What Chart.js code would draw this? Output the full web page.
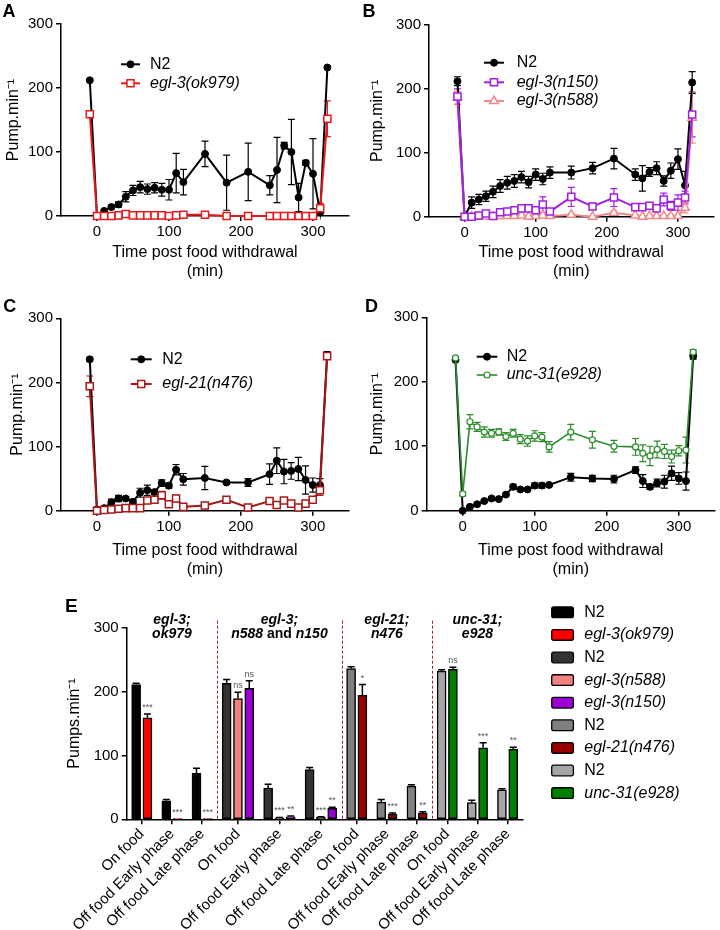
<!DOCTYPE html>
<html><head><meta charset="utf-8">
<script src="https://cdn.jsdelivr.net/npm/chart.js@4/dist/chart.umd.min.js"></script>
<style>
html,body{margin:0;padding:0;background:#fff;}
#wrap{position:relative;width:720px;height:930px;overflow:hidden;background:#fff;}
canvas{position:absolute;}
</style></head><body>
<div id="wrap">
<canvas id="cA" width="360" height="282" style="left:0;top:0;width:360px;height:282px"></canvas>
<canvas id="cB" width="360" height="282" style="left:360px;top:0;width:360px;height:282px"></canvas>
<canvas id="cC" width="360" height="300" style="left:0;top:282px;width:360px;height:300px"></canvas>
<canvas id="cD" width="360" height="300" style="left:360px;top:282px;width:360px;height:300px"></canvas>
<canvas id="cE" width="720" height="350" style="left:0;top:580px;width:720px;height:350px"></canvas>
</div>
<script>
// ---------------- DATA ----------------
const timePoints = [-10,0,10,20,30,40,50,60,70,80,90,100,110,120,150,180,210,240,250,260,270,280,290,300,310,320];
const xTickValues = [0,100,200,300];
const yTickValues = [0,100,200,300];

// Panel A
const A_N2      = [212,0,8,14,18,30,40,45,42,44,41,41,67,53,97,52,69,48,72,110,100,29,83,66,6,232];
const A_N2_err  = [0,0,2,3,4,8,8,9,8,8,10,16,31,20,20,43,45,15,51,5,51,22,4,55,5,0];
const A_ok979     = [159,0,0,0,1,3,1,1,1,1,1,0,1,2,2,0,0,0,0,0,0,0,0,0,12,152];
const A_ok979_err = [0,0,1,1,1,1,1,1,1,1,1,1,1,1,1,1,1,1,1,1,1,1,1,1,8,28];

// Panel B
const B_N2      = [212,0,22,27,32,39,48,53,56,62,54,66,59,69,69,76,91,66,60,70,76,56,72,90,49,210];
const B_N2_err  = [7,2,9,8,8,9,10,10,10,9,9,9,9,9,10,9,16,9,20,7,10,8,12,16,22,17];
const B_n150      = [188,0,0,2,5,1,7,8,10,13,13,10,19,8,31,16,30,15,15,17,13,27,17,22,30,160];
const B_n150_err  = [12,1,2,2,2,2,2,3,3,3,3,4,12,3,15,5,14,5,4,4,4,10,7,12,10,35];
const B_n588      = [186,0,0,0,0,0,1,1,1,2,0,1,2,1,3,0,6,2,0,1,1,1,1,1,14,155];
const B_n588_err  = [10,0,1,1,1,1,1,1,1,1,1,1,1,1,2,1,3,1,1,1,1,1,1,1,8,40];

// Panel C
const C_N2      = [236,2,4,13,19,19,14,28,32,29,43,39,64,49,51,44,44,57,78,61,62,65,48,40,40,243];
const C_N2_err  = [3,1,2,5,5,3,3,7,8,4,5,4,8,9,18,3,6,16,20,19,13,18,22,11,10,5];
const C_n476      = [194,0,1,2,3,4,4,4,16,17,24,10,19,6,8,17,5,15,9,16,11,5,11,17,32,241];
const C_n476_err  = [16,1,1,1,1,1,1,2,3,3,6,3,5,2,2,3,1,3,3,3,2,2,2,3,8,5];

// Panel D
const D_N2      = [234,0,6,10,15,19,18,25,37,33,33,39,39,40,52,50,49,63,46,37,43,45,58,50,46,240];
const D_N2_err  = [2,1,1,1,1,1,1,2,4,2,2,4,4,2,6,5,6,5,10,4,6,10,11,9,14,5];
const D_e928      = [237,26,138,130,122,120,122,115,120,111,108,116,114,99,122,110,100,99,89,85,95,92,84,93,94,246];
const D_e928_err  = [2,3,11,7,8,6,5,6,6,7,8,8,7,8,12,13,9,13,13,15,13,11,10,8,20,4];

// Panel E
const E_categories = ['On food','Off food Early phase','Off food Late phase',
                      'On food','Off food Early phase','Off food Late phase',
                      'On food','Off food Early phase','Off food Late phase',
                      'On food','Off food Early phase','Off food Late phase'];
const _ = null;
const E_N2a       = [211,29,72, _,_,_, _,_,_, _,_,_];
const E_N2a_err   = [2,2,8, _,_,_, _,_,_, _,_,_];
const E_ok979     = [159,1,1, _,_,_, _,_,_, _,_,_];
const E_ok979_err = [6,0,0, _,_,_, _,_,_, _,_,_];
const E_ok979_sig = ['***','***','***', _,_,_, _,_,_, _,_,_];
const E_N2b       = [_,_,_, 213,49,78, _,_,_, _,_,_];
const E_N2b_err   = [_,_,_, 6,6,3, _,_,_, _,_,_];
const E_n588      = [_,_,_, 189,2,3, _,_,_, _,_,_];
const E_n588_err  = [_,_,_, 10,1,1, _,_,_, _,_,_];
const E_n588_sig  = [_,_,_, 'ns','***','***', _,_,_, _,_,_];
const E_n150      = [_,_,_, 205,4,17, _,_,_, _,_,_];
const E_n150_err  = [_,_,_, 12,1,2, _,_,_, _,_,_];
const E_n150_sig  = [_,_,_, 'ns','**','**', _,_,_, _,_,_];
const E_N2c       = [_,_,_, _,_,_, 236,27,52, _,_,_];
const E_N2c_err   = [_,_,_, _,_,_, 3,4,2, _,_,_];
const E_n476      = [_,_,_, _,_,_, 194,8,10, _,_,_];
const E_n476_err  = [_,_,_, _,_,_, 17,2,2, _,_,_];
const E_n476_sig  = [_,_,_, _,_,_, '*','***','**', _,_,_];
const E_N2d       = [_,_,_, _,_,_, _,_,_, 232,26,46];
const E_N2d_err   = [_,_,_, _,_,_, _,_,_, 2,4,2];
const E_e928      = [_,_,_, _,_,_, _,_,_, 235,112,110];
const E_e928_err  = [_,_,_, _,_,_, _,_,_, 3,8,3];
const E_e928_sig  = [_,_,_, _,_,_, _,_,_, 'ns','***','**'];
const E_groupHeaders = [
  [[['egl-3;',true]], [['ok979',true]]],
  [[['egl-3;',true]], [['n588',true],[' and ',false],['n150',true]]],
  [[['egl-21;',true]], [['n476',true]]],
  [[['unc-31;',true]], [['e928',true]]]
];

// ---------------- SETUP ----------------
const FONT = "'Liberation Sans', Arial, Helvetica, sans-serif";
Chart.defaults.font.family = FONT;
Chart.defaults.font.size = 15;
Chart.defaults.color = '#000';

const fixedTicks = vals => scale => { scale.ticks = vals.map(v => ({value: v})); };

function drawMarker(ctx, style, x, y, r) {
  ctx.beginPath();
  if (style === 'rect') {
    const s = r * Math.SQRT1_2; ctx.rect(x - s, y - s, 2 * s, 2 * s);
  } else if (style === 'triangle') {
    let a = 0;
    ctx.moveTo(x + Math.sin(a) * r, y - Math.cos(a) * r); a += 2 * Math.PI / 3;
    ctx.lineTo(x + Math.sin(a) * r, y - Math.cos(a) * r); a += 2 * Math.PI / 3;
    ctx.lineTo(x + Math.sin(a) * r, y - Math.cos(a) * r);
    ctx.closePath();
  } else {
    ctx.arc(x, y, r, 0, Math.PI * 2);
  }
  ctx.fill(); ctx.stroke();
}

function errorBarsPlugin(layer, o) {
  const draw = chart => {
    const ctx = chart.ctx, ys = chart.scales.y;
    chart.data.datasets.forEach((ds, di) => {
      if (!ds.errors) return;
      const meta = chart.getDatasetMeta(di);
      ctx.save();
      ctx.strokeStyle = o.color || ds.borderColor;
      ctx.lineWidth = o.lw;
      meta.data.forEach((el, i) => {
        const raw = ds.data[i];
        const v = (raw && typeof raw === 'object') ? raw.y : raw;
        const e = ds.errors[i];
        if (v == null || !e) return;
        const x = el.x;
        const yT = ys.getPixelForValue(v + e);
        const lo = Math.max(0, v - e);
        const yB = o.upperOnly ? ys.getPixelForValue(v) : ys.getPixelForValue(lo);
        ctx.beginPath();
        ctx.moveTo(x, yT); ctx.lineTo(x, yB);
        ctx.moveTo(x - o.cap, yT); ctx.lineTo(x + o.cap, yT);
        if (!o.upperOnly && lo > 0) { ctx.moveTo(x - o.cap, yB); ctx.lineTo(x + o.cap, yB); }
        ctx.stroke();
      });
      ctx.restore();
    });
  };
  const p = {id: 'errorBars'};
  if (layer === 'before') p.beforeDatasetsDraw = draw; else p.afterDatasetsDraw = draw;
  return p;
}

function lineLegendPlugin(L) {
  return {id: 'lineLegend', afterDraw(chart) {
    const ctx = chart.ctx;
    L.items.forEach((di, k) => {
      const ds = chart.data.datasets[di];
      const y = L.rows[k];
      ctx.save();
      ctx.strokeStyle = ds.borderColor; ctx.lineWidth = ds.borderWidth;
      ctx.beginPath(); ctx.moveTo(L.x1, y); ctx.lineTo(L.x2, y); ctx.stroke();
      ctx.fillStyle = ds.pointBackgroundColor; ctx.strokeStyle = ds.pointBorderColor; ctx.lineWidth = ds.pointBorderWidth;
      drawMarker(ctx, ds.pointStyle, (L.x1 + L.x2) / 2, y, ds.pointRadius);
      ctx.fillStyle = '#000';
      ctx.font = (ds.italic ? 'italic ' : '') + '16px ' + FONT;
      ctx.textBaseline = 'middle'; ctx.textAlign = 'left';
      ctx.fillText(ds.label, L.tx, y);
      ctx.restore();
    });
  }};
}

function panelLabelPlugin(P) {
  return {id: 'panelLabel', afterDraw(chart) {
    const ctx = chart.ctx;
    ctx.save();
    ctx.font = 'bold ' + P.size + 'px ' + FONT;
    ctx.fillStyle = '#000'; ctx.textBaseline = 'alphabetic'; ctx.textAlign = 'left';
    ctx.fillText(P.text, P.x, P.y);
    ctx.restore();
  }};
}

function series(label, vals, errs, st) {
  return {
    label, data: timePoints.map((t, i) => ({x: t, y: vals[i]})), errors: errs,
    borderColor: st.color, borderWidth: st.lw, pointStyle: st.ps, pointRadius: st.r,
    pointBackgroundColor: st.fill, pointBorderColor: st.color, pointBorderWidth: st.pbw,
    italic: st.italic, order: st.order, tension: 0, clip: false
  };
}

const axisGrid = {drawOnChartArea: false, drawTicks: true, tickLength: 5, color: '#000', lineWidth: 1.5};
const axisBorder = {display: true, color: '#000', width: 1.5};

function makeLine(id, datasets, L) {
  return new Chart(document.getElementById(id), {
    type: 'line',
    data: {datasets},
    options: {
      responsive: false, animation: false, devicePixelRatio: 1, events: [],
      layout: {padding: {top: L.top, right: L.right, bottom: 0, left: 0}},
      plugins: {legend: {display: false}, tooltip: {enabled: false}},
      scales: {
        x: {type: 'linear', min: -50, max: 350,
            afterBuildTicks: fixedTicks(xTickValues), afterFit: s => { s.height = L.xh; },
            grid: axisGrid, border: axisBorder,
            ticks: {padding: 2, font: {size: 15}},
            title: {display: true, text: ['Time post food withdrawal', '(min)'], font: {size: 16},
                    padding: {top: 0, bottom: L.tpb}}},
        y: {type: 'linear', min: 0, max: 300,
            afterBuildTicks: fixedTicks(yTickValues), afterFit: s => { s.width = L.yw; },
            grid: axisGrid, border: axisBorder,
            ticks: {padding: 3, font: {size: 15}},
            title: {display: true, text: 'Pump.min\u207B\u00B9', font: {size: 16},
                    padding: {top: L.ytp, bottom: 0}}}
      }
    },
    plugins: [errorBarsPlugin('before', {lw: 1.2, cap: 3.5}), lineLegendPlugin(L.legend), panelLabelPlugin(L.panel)]
  });
}

const sN2 = {color: '#000', lw: 2, ps: 'circle', r: 3.5, fill: '#000', pbw: 1, italic: false, order: 5};
const hollow = (color, ps, r, order) => ({color, lw: 2, ps, r, fill: '#fff', pbw: 1.5, italic: true, order});

makeLine('cA', [
  series('N2', A_N2, A_N2_err, sN2),
  series('egl-3(ok979)', A_ok979, A_ok979_err, hollow('#e8191c', 'rect', 5, 1))
], {top: 24, right: 11, yw: 61, xh: 66, tpb: 0.4, ytp: 4,
    legend: {items: [0, 1], x1: 121, x2: 140, tx: 150, rows: [64.3, 83.3]},
    panel: {text: 'A', x: 2.5, y: 16.7, size: 18}});

makeLine('cB', [
  series('N2', B_N2, B_N2_err, sN2),
  series('egl-3(n150)', B_n150, B_n150_err, hollow('#a21fe0', 'rect', 5, 1)),
  series('egl-3(n588)', B_n588, B_n588_err, hollow('#f08a8a', 'triangle', 5, 2))
], {top: 25, right: 3.3, yw: 69, xh: 65.3, tpb: 0.4, ytp: 8,
    legend: {items: [0, 1, 2], x1: 124, x2: 144, tx: 156.7, rows: [62.7, 82.3, 101]},
    panel: {text: 'B', x: 2.5, y: 16.7, size: 18}});

makeLine('cC', [
  series('N2', C_N2, C_N2_err, sN2),
  series('egl-21(n476)', C_n476, C_n476_err, hollow('#a81818', 'rect', 5, 1))
], {top: 36.3, right: 11.3, yw: 61, xh: 71.3, tpb: 2.4, ytp: 8,
    legend: {items: [0, 1], x1: 130.7, x2: 151.7, tx: 162.3, rows: [77.3, 102]},
    panel: {text: 'C', x: 3.3, y: 29.7, size: 18}});

makeLine('cD', [
  series('N2', D_N2, D_N2_err, sN2),
  Object.assign(series('unc-31(e928)', D_e928, D_e928_err, hollow('#2a8c2a', 'circle', 3, 1)), {borderWidth: 1.6, pointBorderWidth: 1.2})
], {top: 35.3, right: 3.3, yw: 66.7, xh: 71.3, tpb: 2.4, ytp: 8,
    legend: {items: [0, 1], x1: 116.7, x2: 137.3, tx: 146.7, rows: [74.7, 93]},
    panel: {text: 'D', x: 5, y: 29.7, size: 18}});

// ---------------- PANEL E ----------------
const E_allSeries = [E_N2a, E_ok979, E_N2b, E_n588, E_n150, E_N2c, E_n476, E_N2d, E_e928];
// category width = number of bars it holds + a constant gap (bar units), as in the original layout
const E_gap = 0.67;
const E_catWidth = E_categories.map((c, i) => E_allSeries.filter(s => s[i] != null).length + E_gap);
const E_centers = [];
let E_total = 0;
E_catWidth.forEach(w => { E_centers.push(E_total + w / 2); E_total += w; });

function bar(label, data, errors, sig, color, italic) {
  return {label, data, errors, sig, backgroundColor: color, borderColor: '#000', borderWidth: 1.5,
          borderSkipped: false, italic, skipNull: true, barThickness: 11.3, maxBarThickness: 9};
}

const decorPlugin = {
  id: 'decorE',
  afterDatasetsDraw(chart) {
    const ctx = chart.ctx, xs = chart.scales.x, ys = chart.scales.y, area = chart.chartArea;
    ctx.save();
    // group separators
    ctx.strokeStyle = '#b01c1c'; ctx.lineWidth = 1; ctx.setLineDash([3, 2]);
    for (let g = 1; g < E_groupHeaders.length; g++) {
      const k = g * 3 - 1;
      const x = Math.round(xs.getPixelForValue(E_centers[k] + E_catWidth[k] / 2)) + 0.5;
      ctx.beginPath(); ctx.moveTo(x, 40.7); ctx.lineTo(x, area.bottom); ctx.stroke();
    }
    ctx.setLineDash([]);
    // group headers
    ctx.fillStyle = '#000'; ctx.textBaseline = 'alphabetic'; ctx.textAlign = 'left';
    const rowsY = [44, 58.3];
    E_groupHeaders.forEach((lines, g) => {
      const cx = xs.getPixelForValue(E_centers[g * 3 + 1]);
      lines.forEach((segs, r) => {
        let w = 0;
        segs.forEach(([t, it]) => { ctx.font = (it ? 'italic ' : '') + 'bold 14px ' + FONT; w += ctx.measureText(t).width; });
        let x = cx - w / 2;
        segs.forEach(([t, it]) => { ctx.font = (it ? 'italic ' : '') + 'bold 14px ' + FONT; ctx.fillText(t, x, rowsY[r]); x += ctx.measureText(t).width; });
      });
    });
    // significance labels
    ctx.font = '9px ' + FONT; ctx.fillStyle = '#555'; ctx.textAlign = 'center'; ctx.textBaseline = 'bottom';
    chart.data.datasets.forEach((ds, di) => {
      if (!ds.sig) return;
      const meta = chart.getDatasetMeta(di);
      meta.data.forEach((el, i) => {
        if (!ds.sig[i] || ds.data[i] == null) return;
        const top = ys.getPixelForValue(ds.data[i] + (ds.errors[i] || 0));
        ctx.fillText(ds.sig[i], el.x, top - 2);
      });
    });
    ctx.restore();
  }
};

const boxLegendPlugin = {
  id: 'boxLegend',
  afterDraw(chart) {
    const ctx = chart.ctx;
    const L = {x: 551.7, w: 21.7, h: 10.7, y0: 32.3, dy: 22.6, tx: 584.3};
    chart.data.datasets.forEach((ds, i) => {
      const cy = L.y0 + i * L.dy;
      ctx.save();
      ctx.fillStyle = ds.backgroundColor; ctx.strokeStyle = '#000'; ctx.lineWidth = 1.3;
      ctx.beginPath();
      if (ctx.roundRect) ctx.roundRect(L.x, cy - L.h / 2, L.w, L.h, 2); else ctx.rect(L.x, cy - L.h / 2, L.w, L.h);
      ctx.fill(); ctx.stroke();
      ctx.fillStyle = '#000'; ctx.font = (ds.italic ? 'italic ' : '') + '16px ' + FONT;
      ctx.textBaseline = 'middle'; ctx.textAlign = 'left';
      ctx.fillText(ds.label, L.tx, cy);
      ctx.restore();
    });
  }
};

new Chart(document.getElementById('cE'), {
  type: 'bar',
  data: {
    labels: E_centers,
    datasets: [
      bar('N2', E_N2a, E_N2a_err, null, '#000000', false),
      bar('egl-3(ok979)', E_ok979, E_ok979_err, E_ok979_sig, '#ff0000', true),
      bar('N2', E_N2b, E_N2b_err, null, '#333333', false),
      bar('egl-3(n588)', E_n588, E_n588_err, E_n588_sig, '#f28080', true),
      bar('egl-3(n150)', E_n150, E_n150_err, E_n150_sig, '#9a00d6', true),
      bar('N2', E_N2c, E_N2c_err, null, '#808080', false),
      bar('egl-21(n476)', E_n476, E_n476_err, E_n476_sig, '#990000', true),
      bar('N2', E_N2d, E_N2d_err, null, '#a6a6a6', false),
      bar('unc-31(e928)', E_e928, E_e928_err, E_e928_sig, '#007f00', true)
    ]
  },
  options: {
    responsive: false, animation: false, devicePixelRatio: 1, events: [],
    layout: {padding: {top: 47.7, right: 197.3, bottom: 0, left: 0}},
    plugins: {legend: {display: false}, tooltip: {enabled: false}},
    scales: {
      x: {type: 'linear', min: 0, max: E_total, offset: false,
          afterBuildTicks: fixedTicks(E_centers), afterFit: s => { s.height = 110.7; },
          grid: Object.assign({}, axisGrid, {offset: false}), border: axisBorder,
          ticks: {autoSkip: false, minRotation: 45, maxRotation: 45, padding: 1, font: {size: 15},
                  callback: (v, i) => E_categories[i]}},
      y: {min: 0, max: 300, afterBuildTicks: fixedTicks(yTickValues), afterFit: s => { s.width = 126.7; },
          grid: axisGrid, border: axisBorder,
          ticks: {padding: 3, font: {size: 15}},
          title: {display: true, text: 'Pumps.min\u207B\u00B9', font: {size: 16}, padding: {top: 65.4, bottom: 0}}}
    }
  },
  plugins: [errorBarsPlugin('after', {lw: 1.5, cap: 3.5, upperOnly: true, color: '#000'}), decorPlugin, boxLegendPlugin,
            panelLabelPlugin({text: 'E', x: 65, y: 31.7, size: 19})]
});
</script>
</body></html>
